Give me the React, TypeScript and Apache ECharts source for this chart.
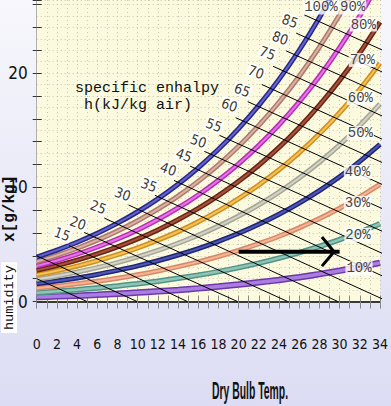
import React, { useEffect, useRef } from "react";
import * as echarts from "echarts";

// ---------- data ----------
const temps = [0, 2, 4, 6, 8, 10, 12, 14, 16, 18, 20, 22, 24, 26, 28, 30, 32, 34];

const rh10 = [0.39, 0.45, 0.51, 0.59, 0.68, 0.78, 0.89, 1.01, 1.15, 1.31, 1.48, 1.68, 1.89, 2.13, 2.4, 2.7, 3.02, 3.38];
const rh20 = [0.77, 0.89, 1.03, 1.19, 1.36, 1.56, 1.78, 2.03, 2.31, 2.62, 2.97, 3.36, 3.8, 4.28, 4.82, 5.42, 6.08, 6.81];
const rh30 = [1.16, 1.34, 1.55, 1.78, 2.04, 2.34, 2.67, 3.05, 3.47, 3.94, 4.47, 5.06, 5.71, 6.45, 7.26, 8.16, 9.16, 10.26];
const rh40 = [1.55, 1.79, 2.06, 2.37, 2.73, 3.12, 3.57, 4.07, 4.63, 5.27, 5.97, 6.76, 7.64, 8.62, 9.71, 10.92, 12.27, 13.76];
const rh50 = [1.94, 2.24, 2.58, 2.97, 3.41, 3.91, 4.47, 5.1, 5.8, 6.6, 7.48, 8.47, 9.58, 10.81, 12.19, 13.71, 15.41, 17.29];
const rh60 = [2.33, 2.69, 3.1, 3.57, 4.1, 4.69, 5.37, 6.12, 6.98, 7.93, 9.0, 10.2, 11.53, 13.02, 14.68, 16.53, 18.58, 20.86];
const rh70 = [2.72, 3.14, 3.62, 4.17, 4.79, 5.48, 6.27, 7.16, 8.15, 9.27, 10.52, 11.93, 13.49, 15.24, 17.19, 19.36, 21.78, 24.47];
const rh80 = [3.11, 3.59, 4.14, 4.77, 5.47, 6.27, 7.18, 8.19, 9.33, 10.62, 12.06, 13.67, 15.47, 17.48, 19.72, 22.23, 25.01, 28.12];
const rh90 = [3.5, 4.04, 4.66, 5.37, 6.17, 7.07, 8.08, 9.23, 10.52, 11.97, 13.59, 15.42, 17.45, 19.73, 22.28, 25.11, 28.28];
const rh100 = [3.89, 4.5, 5.19, 5.97, 6.86, 7.86, 8.99, 10.27, 11.71, 13.33, 15.14, 17.17, 19.45, 22.0, 24.85, 28.03];

const rhNames = ["10%", "20%", "30%", "40%", "50%", "60%", "70%", "80%", "90%", "100%"];
const rhLabelT = [31.92, 31.82, 31.77, 31.77, 32.06, 32.06, 32.25, 32.35, 31.3, 28.15];
const rhLabelX = [2.92, 5.82, 8.63, 11.34, 14.75, 17.82, 21.15, 24.25, 25.75, 25.75];

const enthalpyValues = [5, 10, 15, 20, 25, 30, 35, 40, 45, 50, 55, 60, 65, 70, 75, 80, 85, 90];
const enthalpyStartT = [0, 0, 3.2, 4.7, 6.7, 9.1, 11.7, 13.6, 15.2, 16.6, 18.1, 19.7, 20.9, 22.3, 23.4, 24.7, 25.7, 26.5];
const enthalpyStartX = [2.0, 4.0, 4.9, 6.05, 7.3, 8.45, 9.3, 10.6, 11.85, 13.15, 14.55, 16.1, 17.5, 19.0, 20.6, 21.95, 23.5, 25.1];
const enthalpyEndT = [4.97, 9.94, 14.91, 19.88, 24.85, 29.82, 34.79, 39.76, 44.73, 49.7, 54.67, 59.64, 64.61, 69.58, 74.55, 79.52, 84.49, 89.46];
const enthalpyEndX = [0, 0, 0, 0, 0, 0, 0, 0, 0, 0, 0, 0, 0, 0, 0, 0, 0, 0];

const enthalpyLabels = ["15", "20", "25", "30", "35", "40", "45", "50", "55", "60", "65", "70", "75", "80", "85"];
const enthalpyLabelT = [2.53, 4.08, 6.1, 8.51, 11.11, 13.04, 14.58, 16.02, 17.56, 19.1, 20.36, 21.71, 22.86, 24.11, 25.08];
const enthalpyLabelX = [5.91, 6.87, 8.27, 9.41, 10.2, 11.6, 12.83, 14.05, 15.45, 17.2, 18.52, 20.1, 21.76, 23.07, 24.56];

const arrowT = [20, 30];
const arrowX = [4.35, 4.35];
const arrowHeadT = [28.25, 29.45, 28.25];
const arrowHeadX = [5.65, 4.35, 3.1];

const xLabelStep = 2;
const yLabelStep = 10;
const xMin = 0;
const xMax = 34;
const yMin = 0;
const yMax = 26.4;

// ---------- styles ----------
const rhStyles = [
  { outer: "#6f35ad", inner: "#a87ee0", width: 6.5 },
  { outer: "#4f9587", inner: "#8fc4b6", width: 5.5 },
  { outer: "#d98766", inner: "#f3b597", width: 5 },
  { outer: "#1f2577", inner: "#4f58b6", width: 5 },
  { outer: "#a5a596", inner: "#d4d4c6", width: 5 },
  { outer: "#d18e1c", inner: "#f2c35a", width: 5 },
  { outer: "#6b2414", inner: "#a4533f", width: 5 },
  { outer: "#b52fb5", inner: "#e872e8", width: 5 },
  { outer: "#ab7a6c", inner: "#dcb0a2", width: 5 },
  { outer: "#28288a", inner: "#6464cc", width: 5 },
];
const rhSeriesData = [rh10, rh20, rh30, rh40, rh50, rh60, rh70, rh80, rh90, rh100];

const narrow = '"Liberation Sans Narrow", "DejaVu Sans Condensed", "Liberation Sans", sans-serif';
const mono = '"Liberation Mono", "DejaVu Sans Mono", monospace';

export default function App() {
  const ref = useRef<HTMLDivElement>(null);

  useEffect(() => {
    if (!ref.current) return;
    const chart = echarts.init(ref.current, undefined, { renderer: "svg" });

    const series: any[] = [];

    rhSeriesData.forEach((vals, i) => {
      const data = vals.map((v, j) => [temps[j], v]);
      const st = rhStyles[i];
      series.push({
        type: "line",
        name: rhNames[i] + "-edge",
        data,
        smooth: 0.3,
        symbol: "none",
        silent: true,
        z: 2,
        lineStyle: { color: st.outer, width: st.width },
      });
      series.push({
        type: "line",
        name: rhNames[i],
        data,
        smooth: 0.3,
        symbol: "none",
        silent: true,
        z: 2,
        lineStyle: { color: st.inner, width: st.width - 3 },
      });
    });

    enthalpyValues.forEach((h, i) => {
      series.push({
        type: "line",
        name: "h" + h,
        data: [
          [enthalpyStartT[i], enthalpyStartX[i]],
          [enthalpyEndT[i], enthalpyEndX[i]],
        ],
        symbol: "none",
        silent: true,
        z: 4,
        lineStyle: { color: "#000", width: 1 },
      });
    });

    series.push({
      type: "scatter",
      name: "enthalpy labels",
      symbolSize: 1,
      silent: true,
      z: 8,
      itemStyle: { color: "rgba(0,0,0,0)" },
      data: enthalpyLabels.map((t, i) => ({
        value: [enthalpyLabelT[i], enthalpyLabelX[i]],
        name: t,
      })),
      label: {
        show: true,
        position: "inside",
        formatter: (p: any) => p.name,
        rotate: -20,
        fontFamily: narrow,
        fontSize: 14,
        color: "#000",
        backgroundColor: "#ffffff",
        padding: [0, 1],
      },
    });

    series.push({
      type: "line",
      name: "arrow",
      data: arrowT.map((t, i) => [t, arrowX[i]]),
      symbol: "none",
      silent: true,
      z: 9,
      lineStyle: { color: "#000", width: 4 },
    });
    series.push({
      type: "line",
      name: "arrow head",
      data: arrowHeadT.map((t, i) => [t, arrowHeadX[i]]),
      symbol: "none",
      silent: true,
      z: 9,
      lineStyle: { color: "#000", width: 3 },
    });

    series.push({
      type: "scatter",
      name: "rh labels",
      symbolSize: 1,
      silent: true,
      z: 10,
      itemStyle: { color: "rgba(0,0,0,0)" },
      data: rhNames.map((t, i) => ({ value: [rhLabelT[i], rhLabelX[i]], name: t })),
      label: {
        show: true,
        position: "inside",
        formatter: (p: any) => p.name,
        fontFamily: mono,
        fontSize: 14,
        color: "#111",
        backgroundColor: "#ffffff",
        padding: [0, 1],
      },
    });

    const dotted = { color: "#c9c6b0", width: 1, type: [1, 3] as any };

    chart.setOption({
      animation: false,
      backgroundColor: {
        type: "linear",
        x: 0,
        y: 0,
        x2: 0,
        y2: 1,
        colorStops: [
          { offset: 0, color: "#f7f7fc" },
          { offset: 1, color: "#dcdcf4" },
        ],
      },
      grid: {
        left: 36.7,
        right: 1.4,
        top: 0,
        bottom: 104.5,
        show: true,
        backgroundColor: "#fbf9de",
        borderWidth: 0,
      },
      xAxis: [
        {
          type: "value",
          position: "bottom",
          min: xMin,
          max: xMax,
          interval: 1,
          axisLine: { show: true, onZero: false, lineStyle: { color: "#000", width: 1.5 } },
          axisTick: { show: true, length: 7, lineStyle: { color: "#888" } },
          axisLabel: {
            formatter: (v: number) => (Math.round(v) % xLabelStep === 0 ? String(Math.round(v)) : ""),
            fontFamily: narrow,
            fontSize: 14,
            color: "#111",
            margin: 35,
          },
          splitLine: { show: false },
        },
        {
          type: "value",
          position: "bottom",
          min: xMin,
          max: xMax,
          interval: 1,
          axisLine: { show: false },
          axisTick: { show: true, inside: true, length: 6, lineStyle: { color: "#888" } },
          axisLabel: { show: false },
          splitLine: { show: true, lineStyle: dotted },
        },
      ],
      yAxis: [
        {
          type: "value",
          position: "left",
          min: yMin,
          max: yMax,
          interval: 2,
          axisLine: { show: true, onZero: false, lineStyle: { color: "#b0b0b0", width: 1 } },
          axisTick: { show: true, length: 4, lineStyle: { color: "#333" } },
          axisLabel: {
            formatter: (v: number) => (Math.round(v) % yLabelStep === 0 && Math.abs(v - Math.round(v)) < 1e-6 ? String(Math.round(v)) : ""),
            fontFamily: narrow,
            fontSize: 17,
            color: "#111",
            margin: 9,
          },
          splitLine: { show: false },
        },
        {
          type: "value",
          position: "left",
          min: yMin,
          max: yMax,
          interval: 1,
          axisLine: { show: false },
          axisTick: { show: false },
          axisLabel: { show: false },
          splitLine: { show: true, lineStyle: dotted },
        },
        {
          type: "value",
          position: "left",
          min: yMin,
          max: yMax,
          interval: 2,
          axisLine: { show: false },
          axisTick: { show: true, inside: true, length: 5, lineStyle: { color: "#333" } },
          axisLabel: { show: false },
          splitLine: { show: false },
        },
      ],
      graphic: [
        {
          type: "text",
          left: 75,
          top: 80,
          z: 20,
          style: {
            text: "specific enhalpy\n h(kJ/kg air)",
            fontFamily: mono,
            fontSize: 15,
            lineHeight: 17,
            fill: "#111",
          },
        },
        {
          type: "text",
          x: 212,
          y: 379,
          scaleX: 0.65,
          scaleY: 1.5,
          z: 20,
          style: {
            text: "Dry Bulb Temp.",
            fontFamily: '"Liberation Sans", Arial, sans-serif',
            fontWeight: "bold",
            fontSize: 16,
            fill: "#111",
            verticalAlign: "top",
            align: "left",
          },
        },
        {
          type: "text",
          x: 2,
          y: 242,
          rotation: Math.PI / 2,
          z: 20,
          style: {
            text: "x[g/kg]",
            fontFamily: mono,
            fontWeight: "bold",
            fontSize: 16,
            fill: "#111",
            verticalAlign: "top",
            align: "left",
          },
        },
        {
          type: "text",
          x: 1,
          y: 333,
          rotation: Math.PI / 2,
          z: 20,
          style: {
            text: "humidity",
            fontFamily: mono,
            fontSize: 13.5,
            fill: "#111",
            verticalAlign: "top",
            align: "left",
            backgroundColor: "#ffffff",
            padding: [1, 3],
          },
        },
      ],
      series,
    });

    return () => {
      chart.dispose();
    };
  }, []);

  return (
    <div
      ref={ref}
      style={{ position: "fixed", left: 0, top: 0, width: 391, height: 406 }}
    />
  );
}
